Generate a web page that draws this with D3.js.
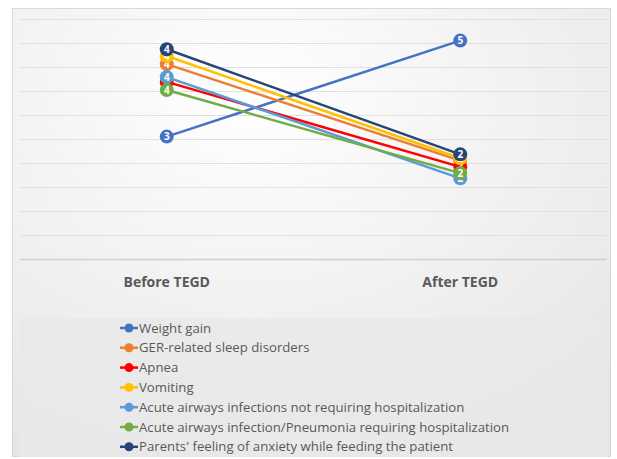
<!DOCTYPE html>
<html>
<head>
<meta charset="utf-8">
<script src="https://cdn.jsdelivr.net/npm/d3@7"></script>
<style>
  body { margin: 0; background: #fff; }
  text { font-family: "Open Sans", "Noto Sans", sans-serif; }
</style>
</head>
<body>
<svg id="chart" width="617" height="459"></svg>
<script>
// categories on the x axis
const categories = ['Before TEGD', 'After TEGD'];

// series names, in legend order
const seriesNames = [
  'Weight gain',
  'GER-related sleep disorders',
  'Apnea',
  'Vomiting',
  'Acute airways infections not requiring hospitalization',
  'Acute airways infection/Pneumonia requiring hospitalization',
  "Parents' feeling of anxiety while feeding the patient"
];

// mean scores (before, after)
const beforeValues = [2.55, 4.06, 3.69, 4.23, 3.79, 3.52, 4.37];
const afterValues = [4.55, 2.05, 1.92, 2.10, 1.68, 1.79, 2.18];

const colors = ['#4472C4', '#ED7D31', '#FF0000', '#FFC000', '#5B9BD5', '#70AD47', '#264478'];

const yTicks = d3.range(0, 5.01, 0.5);

const svg = d3.select('#chart');
const plot = { left: 20, right: 607, top: 19, bottom: 259 };

// background with soft radial gradient like the office chart style
const defs = svg.append('defs');
const grad = defs.append('radialGradient')
  .attr('id', 'bg')
  .attr('cx', '40%').attr('cy', '20%').attr('r', '85%');
grad.append('stop').attr('offset', '0%').attr('stop-color', '#ffffff');
grad.append('stop').attr('offset', '100%').attr('stop-color', '#e6e6e6');

svg.append('rect')
  .attr('x', 12.5).attr('y', 8.5)
  .attr('width', 598).attr('height', 448)
  .attr('fill', 'url(#bg)')
  .attr('stroke', '#d9d9d9')
  .attr('stroke-width', 1);

const x = d3.scaleBand()
  .domain(categories)
  .range([plot.left, plot.right]);

const y = d3.scaleLinear()
  .domain([0, 5])
  .range([plot.bottom, plot.top]);

// gridlines
svg.append('g')
  .selectAll('line')
  .data(yTicks)
  .join('line')
  .attr('x1', plot.left).attr('x2', plot.right)
  .attr('y1', d => Math.round(y(d)) + 0.5)
  .attr('y2', d => Math.round(y(d)) + 0.5)
  .attr('stroke', d => d === 0 ? '#cfcfcf' : '#e0e0e0')
  .attr('stroke-width', d => d === 0 ? 1.5 : 1);

// category labels
svg.append('g')
  .selectAll('text')
  .data(categories)
  .join('text')
  .attr('x', d => x(d) + x.bandwidth() / 2)
  .attr('y', 287)
  .attr('text-anchor', 'middle')
  .attr('font-size', 14)
  .attr('font-weight', 'bold')
  .attr('fill', '#595959')
  .text(d => d);

const series = seriesNames.map((name, i) => ({
  name,
  color: colors[i],
  values: [beforeValues[i], afterValues[i]]
}));

const cx = i => x(categories[i]) + x.bandwidth() / 2;

const line = d3.line()
  .x((d, i) => cx(i))
  .y(d => y(d));

const g = svg.append('g')
  .selectAll('g')
  .data(series)
  .join('g');

g.append('path')
  .attr('d', d => line(d.values))
  .attr('fill', 'none')
  .attr('stroke', d => d.color)
  .attr('stroke-width', 2.5);

g.each(function (s) {
  const pts = d3.select(this).selectAll('g.pt')
    .data(s.values)
    .join('g')
    .classed('pt', true)
    .attr('transform', (d, i) => 'translate(' + cx(i) + ',' + y(d) + ')');
  pts.append('circle')
    .attr('r', 7)
    .attr('fill', s.color);
  pts.append('text')
    .attr('text-anchor', 'middle')
    .attr('dy', '0.36em')
    .attr('font-size', 10)
    .attr('font-weight', 'bold')
    .attr('fill', '#fff')
    .text(d => Math.round(d));
});

// legend
svg.append('rect')
  .attr('x', 19).attr('y', 318)
  .attr('width', 588).attr('height', 139)
  .attr('fill', '#e9e9e9')
  .attr('opacity', 0.8);

const legend = svg.append('g')
  .selectAll('g')
  .data(series)
  .join('g')
  .attr('transform', (d, i) => 'translate(120,' + (328 + i * 19.8) + ')');

legend.append('line')
  .attr('x1', 0).attr('x2', 18)
  .attr('stroke', d => d.color)
  .attr('stroke-width', 2.5);
legend.append('circle')
  .attr('cx', 9)
  .attr('r', 4.5)
  .attr('fill', d => d.color);
legend.append('text')
  .attr('x', 19)
  .attr('dy', '0.35em')
  .attr('font-size', 13.2)
  .attr('fill', '#595959')
  .text(d => d.name);
</script>
</body>
</html>
